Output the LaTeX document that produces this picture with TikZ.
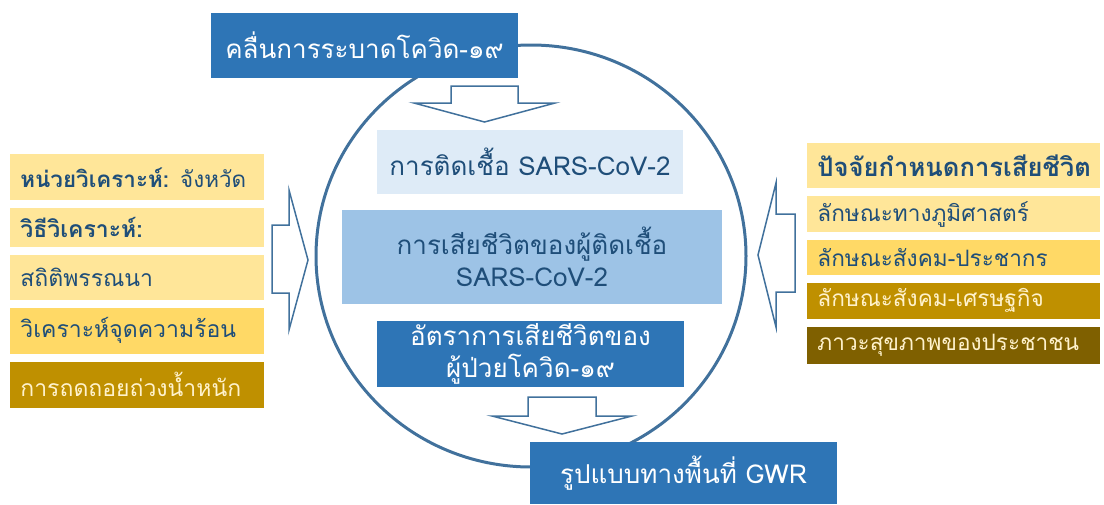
\documentclass[tikz,border=0pt]{standalone}
\usepackage{fontspec}
\setmainfont[Script=Thai]{Loma}
\usepackage{tikz}
\usetikzlibrary{positioning}

\definecolor{navy}{HTML}{1F4E79}
\definecolor{ringblue}{HTML}{41719C}
\definecolor{boxblue}{HTML}{2E75B6}
\definecolor{paleblue}{HTML}{DEEBF7}
\definecolor{midblue}{HTML}{9DC3E6}
\definecolor{paleyellow}{HTML}{FFE699}
\definecolor{sunyellow}{HTML}{FFD966}
\definecolor{gold}{HTML}{BF9000}
\definecolor{olive}{HTML}{7F6000}
\definecolor{cream}{HTML}{FFF2CC}

\tikzset{
  mainbox/.style={rectangle,inner sep=0pt,align=center,font=\fontsize{13}{16}\selectfont},
  sidebox/.style={rectangle,inner xsep=5pt,inner ysep=0pt,align=left,text=navy},
  blockarrow/.style={draw=ringblue,fill=white,line width=0.75pt,line join=miter},
}

\begin{document}
\begin{tikzpicture}[x=0.5pt,y=-0.5pt,node distance=3.5pt]
      \useasboundingbox (0,0) rectangle (1104,504);
      % the ring behind everything
      \draw[ringblue,line width=1.5pt] (531,256) ellipse[x radius=215,y radius=211];

      % boxes inside the ring
      \node[mainbox,fill=paleblue,text=navy,minimum width=153pt,minimum height=32pt] (inf) at (530,162) {การติดเชื้อ SARS-CoV-2};
      \node[mainbox,fill=midblue,text=navy,minimum width=190pt,minimum height=47pt] (death) at (532,257) {การเสียชีวิตของผู้ติดเชื้อ\\SARS-CoV-2};
      \node[mainbox,fill=boxblue,text=white,minimum width=153.5pt,minimum height=33pt] (rate) at (530.5,354) {อัตราการเสียชีวิตของ\\ผู้ป่วยโควิด-๑๙};

      % wave on top, pattern at the bottom
      \node[mainbox,fill=boxblue,text=white,minimum width=153.5pt,minimum height=32.5pt] (wave) at (364.5,45.5) {คลื่นการระบาดโควิด-๑๙};
      \node[mainbox,fill=boxblue,text=white,minimum width=153.5pt,minimum height=31pt] (gwr) at (683.5,473) {รูปแบบทางพื้นที่ GWR};

      % unit and methods
      \node[sidebox,fill=paleyellow,text width=117pt,minimum height=23pt,anchor=north west,font=\fontsize{11.2}{14}\selectfont] (unit) at (10,154) {\textbf{หน่วยวิเคราะห์:} จังหวัด};
      \node[sidebox,fill=paleyellow,text width=117pt,minimum height=19.5pt,below=of unit,font=\fontsize{11.5}{14}\selectfont] (method) {\textbf{วิธีวิเคราะห์:}};
      \node[sidebox,fill=paleyellow,text width=117pt,minimum height=22.5pt,below=of method,font=\fontsize{11.5}{14}\selectfont] (desc) {สถิติพรรณนา};
      \node[sidebox,fill=sunyellow,text width=117pt,minimum height=23pt,below=of desc,font=\fontsize{11.5}{14}\selectfont] (hot) {วิเคราะห์จุดความร้อน};
      \node[sidebox,fill=gold,text=cream,text width=117pt,minimum height=23pt,below=of hot,font=\fontsize{11.5}{14}\selectfont] (regr) {การถดถอยถ่วงน้ำหนัก};

      % determinants
      \node[sidebox,fill=paleyellow,text width=136.5pt,minimum height=22.5pt,anchor=north west,font=\fontsize{12.8}{15}\selectfont] (det) at (807,143) {\textbf{ปัจจัยกำหนดการเสียชีวิต}};
      \node[sidebox,fill=paleyellow,text width=136.5pt,minimum height=18pt,below=of det,font=\fontsize{11.3}{13}\selectfont] (geo) {ลักษณะทางภูมิศาสตร์};
      \node[sidebox,fill=sunyellow,text width=136.5pt,minimum height=17.5pt,below=of geo,font=\fontsize{11.3}{13}\selectfont] (pop) {ลักษณะสังคม-ประชากร};
      \node[sidebox,fill=gold,text=cream,text width=136.5pt,minimum height=18pt,below=of pop,font=\fontsize{11.3}{13}\selectfont] (econ) {ลักษณะสังคม-เศรษฐกิจ};
      \node[sidebox,fill=olive,text=cream,text width=136.5pt,minimum height=18.5pt,below=of econ,font=\fontsize{11.3}{13}\selectfont] (health) {ภาวะสุขภาพของประชาชน};

      % block arrows
      \draw[blockarrow] (451,86) -- (518,86) -- (518,103) -- (555,103) -- (484.5,122) -- (414,103) -- (451,103) -- cycle;
      \draw[blockarrow] (528,397) -- (596,397) -- (596,416) -- (632,416) -- (562,434) -- (492,416) -- (528,416) -- cycle;
      \draw[blockarrow] (272,225) -- (289,225) -- (289,190) -- (308,260) -- (289,330) -- (289,293) -- (272,293) -- cycle;
      \draw[blockarrow] (795,214) -- (776,214) -- (776,183) -- (758,255) -- (776,327) -- (776,292) -- (795,292) -- cycle;
\end{tikzpicture}
\end{document}
